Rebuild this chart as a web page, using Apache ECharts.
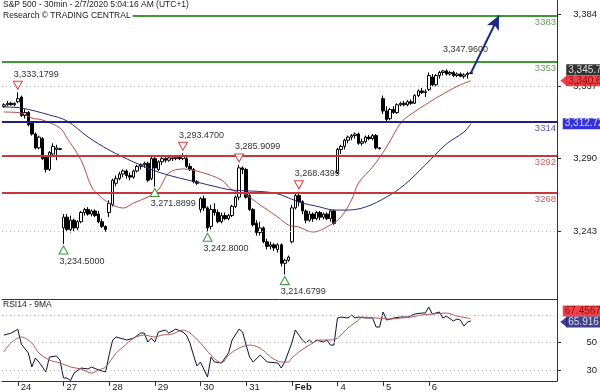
<!DOCTYPE html>
<html><head><meta charset="utf-8">
<script src="https://cdn.jsdelivr.net/npm/echarts@6/dist/echarts.min.js"></script>
<style>html,body{margin:0;padding:0;background:#fff}#c{width:600px;height:392px}</style>
</head><body><div id="c"></div>
<script>
// ---------- DATA ----------
const dayLabels = ['24','27','28','29','30','31','Feb','4','5','6'];
const dayStarts = [4,17,30,43,56,69,82,95,108,121];
const slotCount = 158;

const openArr = [3324,3325,3326,3325,3327,3330,3318,3320,3313,3306,3297,3303,3291,3283,3293,3296,3296,
 3245,3252,3244,3250,3245,3249,3255,3257,3254,3256,3254,3249,3246,
 3255,3260,3274,3277,3280,3282,3279,3278,3282,3285,3286,3287,3277,
 3290,3283,3288,3290,3289,3290.5,3290,3291,3290,3290,3285,3283,3275,
 3257,3264,3258,3246,3257,3255,3249,3253,3251,3253,3259,3265,3284,
 3283,3266,3257,3248,3242,3245,3236,3233,3234,3231,3234,3222,3224,
 3236,3258,3266,3262,3256,3250,3254,3251,3255,3252,3254,3251,3256,
 3281,3296,3298,3302,3304,3305,3306,3300,3301,3304,3303,3305,3297,
 3329,3321,3316,3322,3320,3325,3326,3325,3327,3326,3331,3334,3333,
 3335,3343,3338,3344,3346,3347,3345,3346,3344,3345,3343.5,3344.5,3345.3];
const closeArr = [3325,3326,3325,3326,3329,3318,3320,3312,3306,3297,3304,3290,3283,3294,3298,3297,3296.5,
 3252,3244,3250,3245,3249,3255,3257,3254,3256,3253,3249,3246,3244,
 3261,3276,3277,3280,3282,3279,3278,3282,3285,3286,3287,3276,3290,
 3284,3288,3290,3289,3290.5,3290,3291,3290,3292,3285,3283,3275,3274,
 3264,3258,3245,3257,3255,3249,3253,3251,3253,3259,3265,3284,3283,
 3265,3257,3247,3242,3245,3236,3233,3234,3232,3234,3222,3224,3226,
 3258,3266,3262,3256,3250,3254,3251,3255,3252,3254,3251,3256,3248,
 3296,3298,3302,3304,3305,3306,3300,3301,3304,3303,3305,3297,3296.5,
 3321,3315.5,3322,3320,3325,3326,3325,3327,3326,3331,3334,3333,3333.5,
 3344,3338,3344,3346,3347,3345,3346,3344,3345,3343.5,3344.5,3345.3,3345.78];
const lowArr = [3323,3324,3324.5,3324,3326,3317,3316,3311,3305,3296,3296,3289,3281,3282,3291,3289,3295.5,
 3234.5,3243,3242,3243,3243.5,3248,3253,3253,3252.5,3252,3248,3245,3242.5,
 3252,3259,3272,3276,3278,3277,3276,3277,3281,3283,3284,3275,3276,
 3271.8899,3282,3286,3287.5,3288,3288.5,3289,3289,3289,3284,3282,3274,3273,
 3255,3256,3242.8,3244,3253,3248,3248,3250,3250,3252,3258,3263,3280,
 3264,3256,3246,3240,3240,3235,3231,3231,3230,3229,3220,3214.6799,3223,
 3235,3257,3259,3254,3248,3249,3249,3250,3250,3250.5,3250,3249,3247,
 3280,3293,3296,3300,3302,3303,3299,3298.5,3300,3302,3302,3296,3296,
 3319,3314.5,3315,3319,3319,3324,3324,3324,3325,3325.5,3330,3332,3330,
 3334,3337,3337,3342,3344,3344,3344,3343,3343,3343,3342,3342,3345];
const highArr = [3326,3327.5,3327,3326.5,3333.1799,3331,3322,3321,3314,3307,3305,3304,3292,3295,3300,3299,3297,
 3254,3254,3253,3251,3250,3256,3258,3258.5,3257,3257,3256,3251,3246.5,
 3263,3277,3279,3281.5,3283,3283,3281,3283,3286,3287,3288,3288,3292,
 3291,3289,3291,3291.5,3291,3292,3292,3292.5,3293.47,3292.5,3287,3284,3276,
 3265,3266,3259,3260,3261,3257,3255,3255,3254,3260,3266,3285.9099,3285,
 3284,3268,3258,3250,3249,3246,3238,3236,3235,3235,3235,3225,3227,
 3260,3267,3268.4399,3263,3257,3256,3255,3256,3256,3255,3255,3257,3257,
 3297,3299,3303,3305,3306,3307,3307,3303,3305,3305.5,3306,3306,3297.5,
 3331,3324,3323,3324,3326,3327,3327.5,3328,3328.5,3332,3335,3336,3335,
 3346,3345,3345,3347,3347.5,3347.96,3347,3347,3346,3346,3345.5,3346.5,3346.2];

// moving averages on price: [bar index, value]
const redMA = [[0,3320.3],[5,3319.7],[8,3316.4],[11,3315.1],[16,3309.9],[18,3303.4],[22,3289.1],[25,3271.6],[27,3266.4],[30,3261.2],[34,3257.9],[37,3261.2],[41,3265.1],[44,3269.6],[47,3280.7],[51,3283.3],[56,3281.3],[62,3276.1],[65,3269.6],[69,3266.4],[73,3259.9],[78,3252.1],[81,3246.9],[84,3245.6],[88,3242.3],[93,3246.9],[96,3252.1],[99,3263.1],[101,3274.2],[105,3284.6],[109,3297.6],[113,3313.2],[116,3319],[120,3325],[126,3333.3],[130,3338],[133,3340.6]];
const blueMA = [[0,3323.6],[5,3322.9],[13,3318.4],[18,3314.5],[24,3304.1],[30,3295.6],[37,3287.8],[44,3281.3],[50,3277.4],[56,3274.2],[62,3270.9],[65,3269.6],[75,3268.3],[79,3266.4],[84,3261.8],[90,3258.6],[94,3256.6],[98,3256.6],[103,3258.6],[109,3265.1],[114,3272.9],[120,3285.9],[126,3299.5],[131,3307.3],[133,3312.72]];

// RSI14 and its 9MA: [bar index, value]
const rsi = [[0,55.6],[2,56.9],[4,59.8],[5,49],[7,42.5],[8,32.3],[9,38.8],[10,35.9],[12,28.6],[13,39.5],[15,40.3],[16,37.3],[17,24.2],[18,24.2],[19,22.3],[20,27.8],[22,31.5],[24,30.8],[25,32.2],[27,30.1],[29,28.6],[30,41],[31,52],[32,54.2],[35,52],[37,53.4],[39,57.1],[40,57.1],[41,50.5],[42,53.4],[43,50.5],[44,57.8],[46,59.3],[47,57.1],[49,60],[51,57.8],[52,55.6],[53,49.8],[54,41],[55,33],[56,35.9],[58,24.9],[59,39.5],[60,35.9],[62,35.2],[64,42.5],[65,52],[67,60],[68,57.8],[69,48.3],[70,39.5],[71,35.9],[73,41],[75,35.9],[78,35.2],[79,31.5],[80,35.9],[82,49.8],[83,59.3],[84,55.6],[85,52],[86,49.8],[87,52],[88,49.8],[89,52],[91,50.5],[92,52],[93,48.3],[94,48.3],[95,68.1],[96,68.8],[98,68.1],[99,70.3],[100,68.1],[101,68.8],[103,68.1],[105,68.1],[106,61.5],[107,61.5],[108,72.5],[109,66.6],[111,68.1],[113,68.8],[115,68.8],[117,71],[119,71.7],[120,71.7],[121,76.1],[122,71],[123,71.7],[124,72.5],[125,68.1],[126,69.5],[128,65.9],[129,67.3],[130,66.6],[131,62.2],[132,65.1],[133,65.916]];
const rsiMA = [[0,43.2],[2,49.8],[5,54.2],[8,49.8],[10,42.5],[13,37.3],[16,35.2],[19,32.2],[22,30.8],[25,27.8],[27,30.1],[29,32.2],[32,42.5],[34,46.9],[37,53.4],[40,55.6],[43,54.2],[45,55.6],[48,56.4],[51,59.3],[53,57.1],[56,49.8],[59,41],[62,35.2],[64,41],[67,46.1],[70,48.3],[73,46.1],[76,39.5],[79,35.9],[81,35.9],[82,38.8],[84,43.2],[87,48.3],[90,52],[93,52],[95,53.4],[98,60.8],[101,66.6],[102,68.8],[106,68.1],[110,67.3],[113,68.1],[116,68.8],[119,70.3],[122,71],[126,71.7],[129,69.5],[132,68.1],[133,67.4567]];

// key levels and pivots
const greenLevels = [3383, 3353];
const blueLevels = [3314];
const redLevels = [3292, 3268];
const pivotHighIdx = [4, 51, 67, 84];
const pivotHighVal = [3333.1799, 3293.47, 3285.9099, 3268.4399];
const pivotLowIdx = [17, 43, 58, 80];
const pivotLowVal = [3234.5, 3271.8899, 3242.8, 3214.6799];
const projPivot = 3347.96;
const projTarget = 3383;
const projTargetIdx = 141;
const priceTicks = [3243, 3290, 3337, 3384];
const priceGrid = [3243, 3337];
const rsiTicks = [30, 50];
const rsiGrid = [30, 50, 70];

// ---------- BUILD ----------
const categories = [];
for (let i = 0; i < slotCount; i++) categories.push('b' + i);
const candles = openArr.map((o, i) => [o, closeArr[i], lowArr[i], highArr[i]]);
const lastIdx = openArr.length - 1;
const lastClose = closeArr[lastIdx];
const fmt = (v, d) => v.toLocaleString('en-US', {minimumFractionDigits: d, maximumFractionDigits: d});
const fmtMax = (v, d) => v.toLocaleString('en-US', {maximumFractionDigits: d});
const FONT = 'Liberation Sans, Arial, sans-serif';
const tagIdx = slotCount - 1;

function levelLine(v, color, labelColor) {
  return {yAxis: v, lineStyle: {color: color, width: 2, type: 'solid'},
    label: {show: true, formatter: String(v), position: 'insideEndBottom', distance: [1, 2], color: labelColor, fontSize: 9.5, fontFamily: FONT}};
}
function gridLine(v) {
  return {yAxis: v, lineStyle: {color: '#b8b8b8', width: 1, type: [1, 3]}, label: {show: false}};
}
function tag(val, text, bg, fg, dx, dy, arrow) {
  const items = [{value: [tagIdx, val], symbol: 'circle', symbolSize: 0,
    label: {show: true, position: 'right', distance: 0, offset: [dx, dy], formatter: text,
      backgroundColor: bg, color: fg, padding: [1, 3, 0, 2], fontSize: 10, lineHeight: 10, fontFamily: FONT}}];
  if (arrow) items.push({value: [tagIdx, val], symbol: 'triangle', symbolRotate: 90, symbolSize: [11, 7],
    symbolOffset: [dx - 2.5, dy], itemStyle: {color: bg}, label: {show: false}});
  return items;
}

const highMarks = pivotHighIdx.map((ix, k) => ({coord: [ix, pivotHighVal[k]], symbol: 'triangle', symbolRotate: 180,
  symbolSize: [9, 8], symbolOffset: [0, -7], itemStyle: {color: '#fff', borderColor: '#d64545', borderWidth: 1},
  label: {show: true, formatter: fmt(pivotHighVal[k], 4), position: 'top', distance: 2, align: 'left', offset: [-4, 0], color: '#333', fontSize: 9, fontFamily: FONT}}));
const lowMarks = pivotLowIdx.map((ix, k) => ({coord: [ix, pivotLowVal[k]], symbol: 'triangle',
  symbolSize: [9, 8], symbolOffset: [0, 6], itemStyle: {color: '#fff', borderColor: '#3a9a3a', borderWidth: 1},
  label: {show: true, formatter: fmt(pivotLowVal[k], 4), position: 'bottom', distance: 2, align: 'left', offset: [-4, 0], color: '#333', fontSize: 9, fontFamily: FONT}}));
const projLabel = {coord: [lastIdx - 1, projPivot], symbol: 'circle', symbolSize: 1, itemStyle: {color: 'rgba(0,0,0,0)'},
  label: {show: true, formatter: fmt(projPivot, 4), position: 'inside', offset: [-2, -20], color: '#333', fontSize: 9, fontFamily: FONT}};

const chart = echarts.init(document.getElementById('c'), null, {renderer: 'canvas'});
chart.setOption({
  animation: false,
  backgroundColor: '#fff',
  textStyle: {fontFamily: FONT},
  title: [
    {text: 'S&P 500 - 30min - 2/7/2020 5:04:16 AM (UTC+1)', left: 1, top: -1, padding: [1, 2],
      textStyle: {fontSize: 8.5, fontWeight: 'normal', color: '#222', fontFamily: FONT}},
    {text: 'Research © TRADING CENTRAL', left: 1, top: 10, padding: [1, 2], backgroundColor: '#fff',
      textStyle: {fontSize: 8.5, fontWeight: 'normal', color: '#222', fontFamily: FONT}},
    {text: 'RSI14 - 9MA', left: 1, top: 299, padding: [1, 2],
      textStyle: {fontSize: 8.5, fontWeight: 'normal', color: '#222', fontFamily: FONT}}
  ],
  grid: [
    {left: 2, right: 43, top: 0, height: 299},
    {left: 2, right: 43, top: 299, height: 82}
  ],
  xAxis: [
    {type: 'category', gridIndex: 0, data: categories, boundaryGap: true,
      axisLine: {show: true, lineStyle: {color: '#333', width: 1}}, axisTick: {show: false}, axisLabel: {show: false}, splitLine: {show: false}},
    {type: 'category', gridIndex: 1, data: categories, boundaryGap: true,
      axisLine: {show: true, lineStyle: {color: '#333', width: 1}},
      axisTick: {show: true, alignWithLabel: true, length: 5, interval: (i) => dayStarts.includes(i), lineStyle: {color: '#333'}},
      axisLabel: {show: true, interval: (i) => dayStarts.includes(i), align: 'left', margin: 1, padding: [0, 0, 0, 3],
        fontSize: 9.5, color: '#222', fontFamily: FONT,
        formatter: (v, i) => { const k = dayStarts.indexOf(i); if (k < 0) return ''; return dayLabels[k] === 'Feb' ? '{b|Feb}' : dayLabels[k]; },
        rich: {b: {fontWeight: 'bold', fontSize: 9.5, fontFamily: FONT, color: '#222'}}},
      splitLine: {show: false}}
  ],
  yAxis: [
    {type: 'value', gridIndex: 0, position: 'right', min: 3198.8, max: 3393.1, scale: true,
      axisLine: {show: true, lineStyle: {color: '#333'}},
      axisTick: {show: true, customValues: priceTicks, length: 4, lineStyle: {color: '#333'}},
      axisLabel: {show: true, customValues: priceTicks, formatter: (v) => fmt(v, 0), align: 'right', margin: 40, fontSize: 9.5, color: '#222', fontFamily: FONT},
      splitLine: {show: false}},
    {type: 'value', gridIndex: 1, position: 'right', min: 22, max: 82,
      axisLine: {show: true, lineStyle: {color: '#333'}},
      axisTick: {show: true, customValues: rsiTicks, length: 4, lineStyle: {color: '#333'}},
      axisLabel: {show: true, customValues: rsiTicks, align: 'right', margin: 40, fontSize: 9.5, color: '#222', fontFamily: FONT},
      splitLine: {show: false}}
  ],
  series: [
    {type: 'line', xAxisIndex: 0, yAxisIndex: 0, data: [], z: 0, silent: true,
      markLine: {symbol: ['none', 'none'], silent: true, animation: false, data: priceGrid.map(gridLine)}},
    {type: 'line', xAxisIndex: 1, yAxisIndex: 1, data: [], z: 0, silent: true,
      markLine: {symbol: ['none', 'none'], silent: true, animation: false, data: rsiGrid.map(gridLine)}},
    {type: 'candlestick', xAxisIndex: 0, yAxisIndex: 0, data: candles, barWidth: 3, z: 3,
      itemStyle: {color: '#fff', color0: '#000', borderColor: '#000', borderColor0: '#000', borderWidth: 1},
      markLine: {symbol: ['none', 'none'], silent: true, animation: false,
        data: [
          ...greenLevels.map(v => levelLine(v, '#3d9a35', '#6a9a62')),
          ...blueLevels.map(v => levelLine(v, '#1f1f8c', '#5a5aa8')),
          ...redLevels.map(v => levelLine(v, '#c8353d', '#c86060')),
          [{coord: [lastIdx, lastClose], symbol: 'none', lineStyle: {color: '#1a2a80', width: 2, type: 'solid'}, label: {show: false}},
           {coord: [projTargetIdx, projTarget], symbol: 'arrow', symbolSize: [10, 14]}]
        ]},
      markPoint: {silent: true, animation: false, data: [...highMarks, ...lowMarks, projLabel]}},
    {type: 'line', xAxisIndex: 0, yAxisIndex: 0, data: redMA, smooth: 0.35, showSymbol: false, z: 4,
      lineStyle: {color: '#b4504a', width: 1}},
    {type: 'line', xAxisIndex: 0, yAxisIndex: 0, data: blueMA, smooth: 0.35, showSymbol: false, z: 4,
      lineStyle: {color: '#2a2a7a', width: 1}},
    {type: 'line', xAxisIndex: 1, yAxisIndex: 1, data: rsi, showSymbol: false, z: 4,
      lineStyle: {color: '#111133', width: 1}},
    {type: 'line', xAxisIndex: 1, yAxisIndex: 1, data: rsiMA, smooth: 0.3, showSymbol: false, z: 4,
      lineStyle: {color: '#b05a55', width: 1}},
    {type: 'scatter', xAxisIndex: 0, yAxisIndex: 0, clip: false, silent: true, z: 10,
      data: [
        ...tag(lastClose, fmtMax(lastClose, 2), '#000', '#fff', 11, -3, false),
        ...tag(redMA[redMA.length - 1][1], fmtMax(redMA[redMA.length - 1][1], 2), '#e8141c', '#7a0000', 11, 0, true),
        ...tag(blueMA[blueMA.length - 1][1], fmtMax(blueMA[blueMA.length - 1][1], 2), '#0000d0', '#fff', 7.5, 0, false)
      ]},
    {type: 'scatter', xAxisIndex: 1, yAxisIndex: 1, clip: false, silent: true, z: 10,
      data: [
        ...tag(rsiMA[rsiMA.length - 1][1], fmtMax(rsiMA[rsiMA.length - 1][1], 4), '#e8141c', '#7a0000', 7.5, -8, false),
        ...tag(rsi[rsi.length - 1][1], fmtMax(rsi[rsi.length - 1][1], 4), '#101070', '#fff', 11, 1, true)
      ]}
  ]
});
</script>
</body></html>
